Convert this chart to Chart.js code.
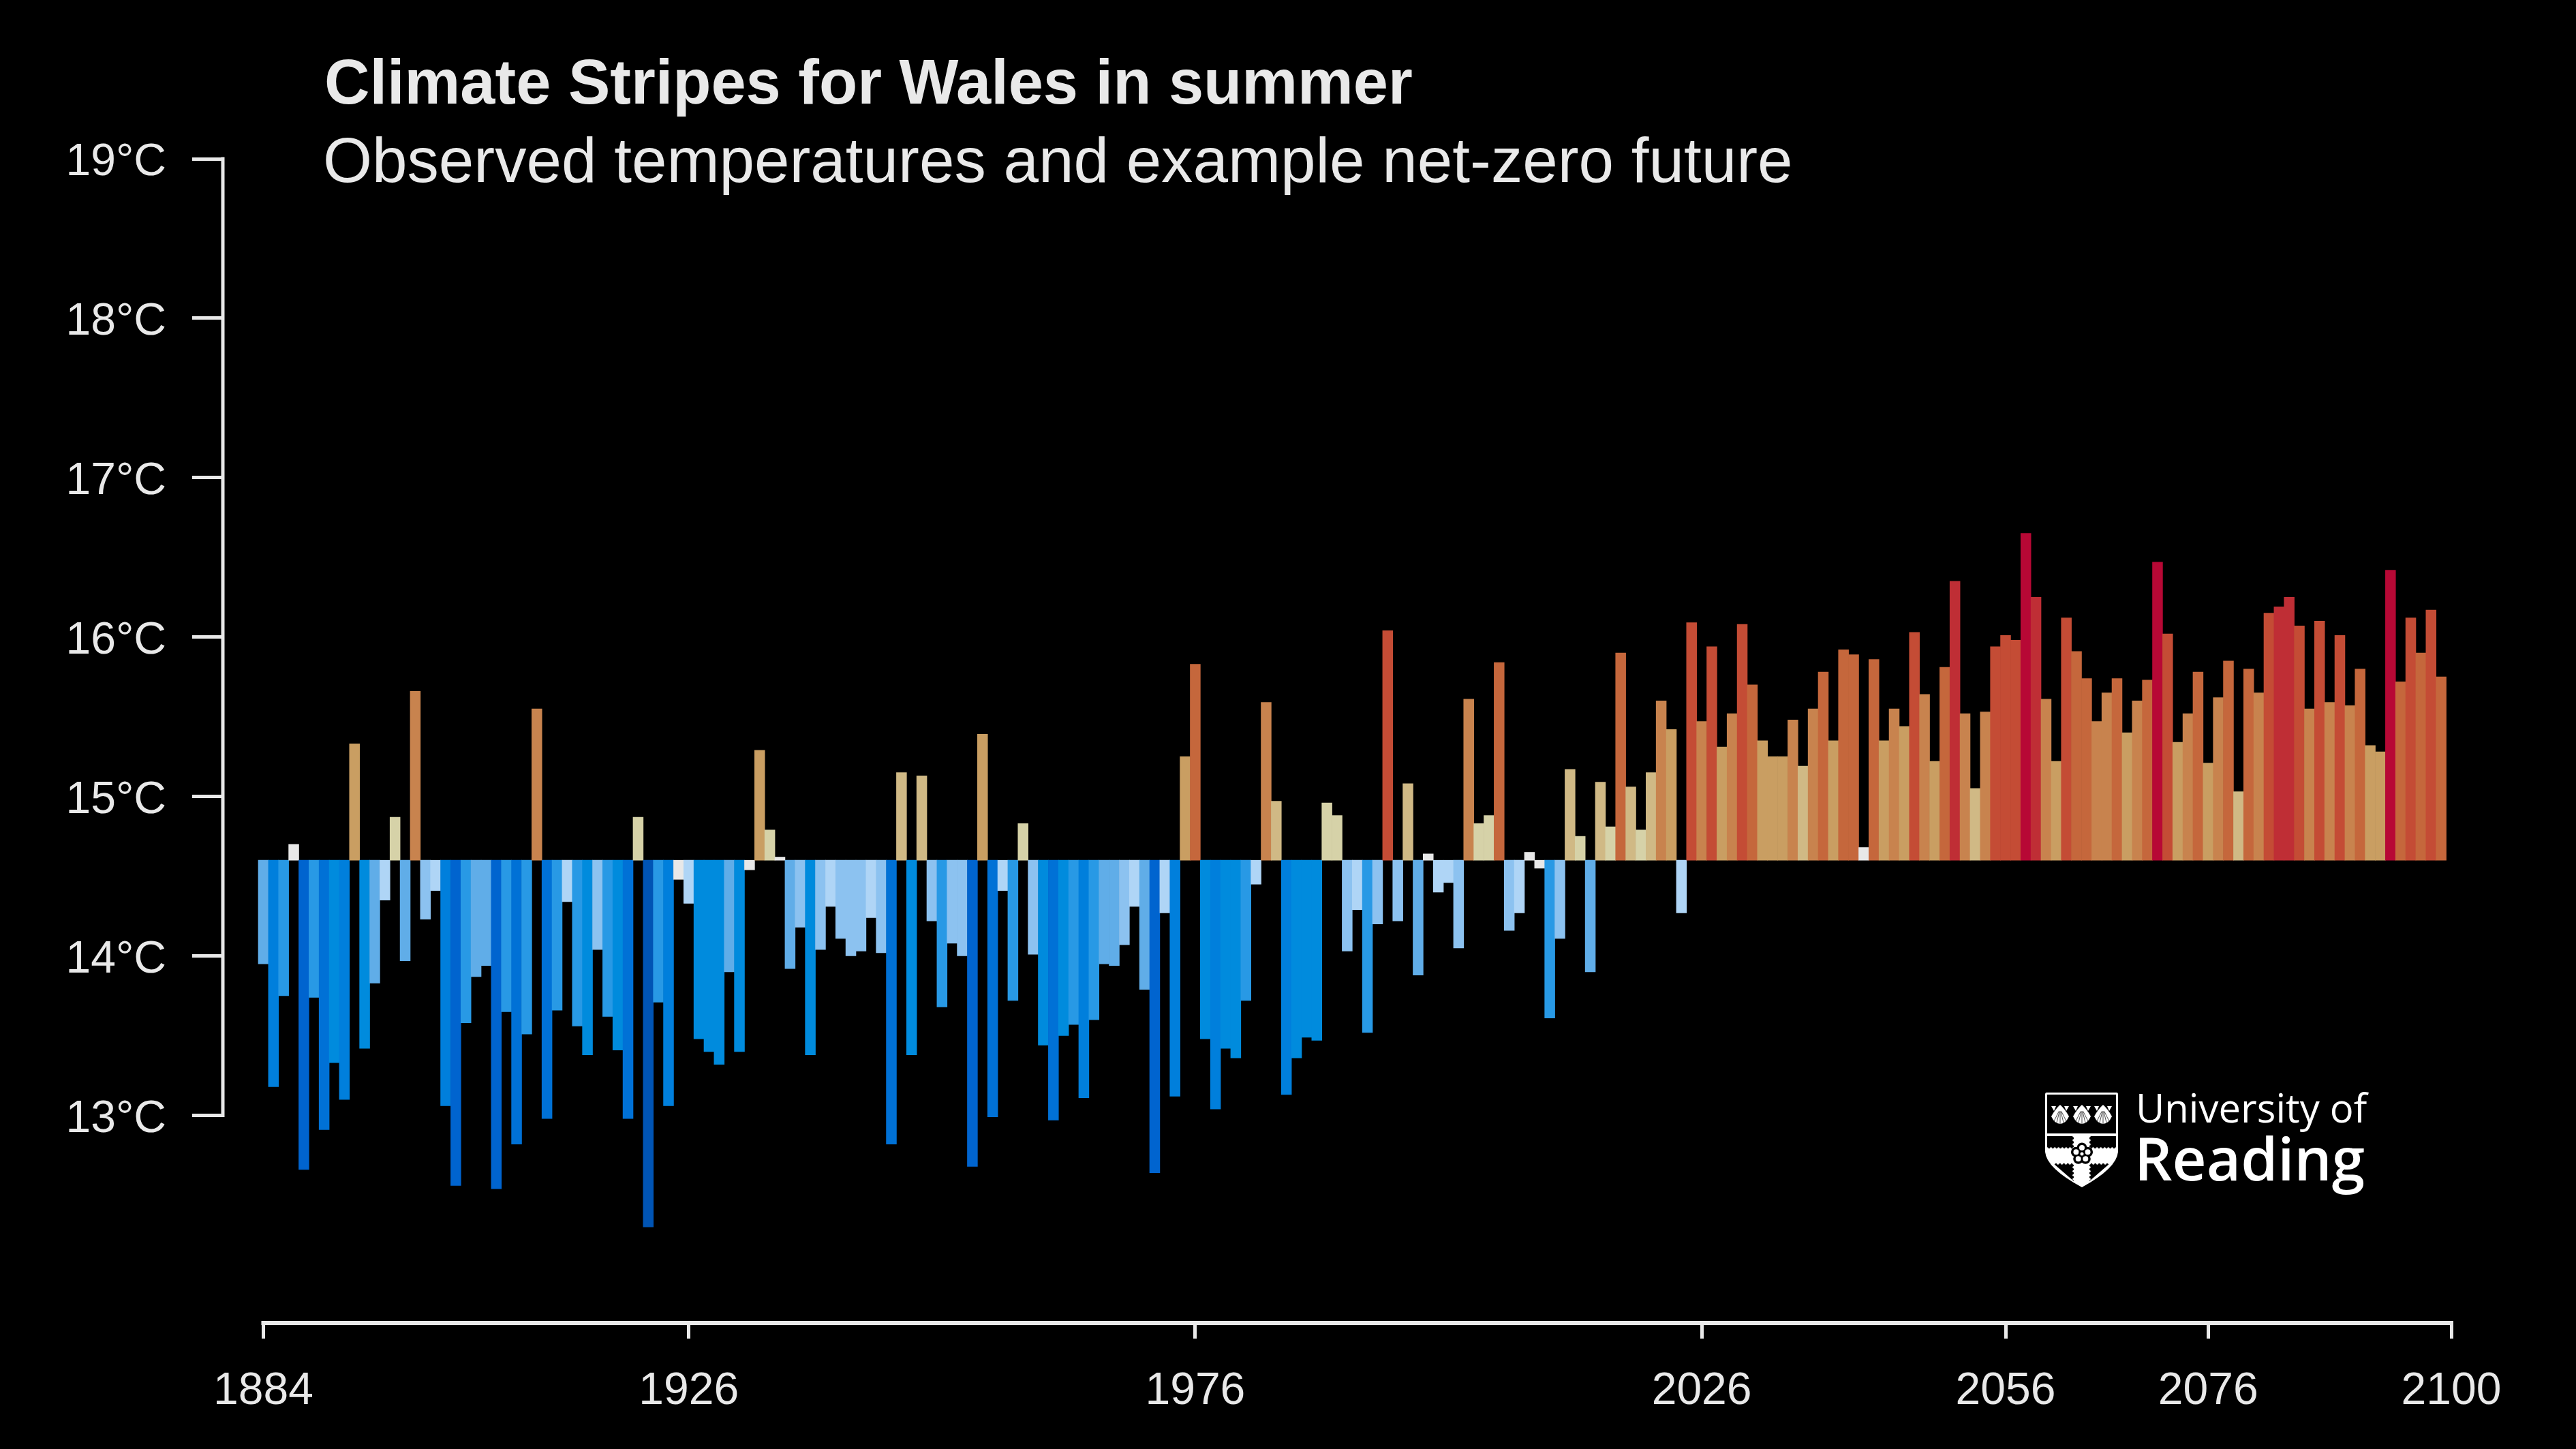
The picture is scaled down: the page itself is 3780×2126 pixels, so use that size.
<!DOCTYPE html>
<html>
<head>
<meta charset="utf-8">
<title>Climate Stripes for Wales in summer</title>
<script src="https://cdn.jsdelivr.net/npm/chart.js@4/dist/chart.umd.js"></script>
<style>
  html, body { margin: 0; padding: 0; background: #000; }
  canvas { display: block; }
</style>
</head>
<body>
<canvas id="stripes" width="3780" height="2126"></canvas>
<script>
const titleText = "Climate Stripes for Wales in summer";
const subtitleText = "Observed temperatures and example net-zero future";

const firstYear = 1884;
const baseline = 14.6;
const yearTicks = [1884, 1926, 1976, 2026, 2056, 2076, 2100];
const tempTicks = [13, 14, 15, 16, 17, 18, 19];

// 1884 to 2024
const observed = [
  13.95, 13.18, 13.75, 14.70, 12.66, 13.74, 12.91, 13.33, 13.10, 15.33,
  13.42, 13.83, 14.35, 14.87, 13.97, 15.66, 14.23, 14.41, 13.06, 12.56,
  13.58, 13.87, 13.94, 12.54, 13.65, 12.82, 13.51, 15.55, 12.98, 13.66,
  14.34, 13.56, 13.38, 14.04, 13.62, 13.41, 12.98, 14.87, 12.30, 13.71,
  13.06, 14.48, 14.33, 13.48, 13.40, 13.32, 13.90, 13.40, 14.54, 15.29,
  14.79, 14.62, 13.92, 14.18, 13.38, 14.04, 14.31, 14.11, 14.00, 14.03,
  14.24, 14.02, 12.82, 15.15, 13.38, 15.13, 14.22, 13.68, 14.08, 14.00,
  12.68, 15.39, 12.99, 14.41, 13.72, 14.83, 14.01, 13.44, 12.97, 13.50,
  13.57, 13.11, 13.60, 13.95, 13.94, 14.07, 14.31, 13.79, 12.64, 14.27,
  13.12, 15.25, 15.83, 13.48, 13.04, 13.42, 13.36, 13.72, 14.45, 15.59,
  14.97, 13.13, 13.36, 13.49, 13.47, 14.96, 14.88, 14.03, 14.29, 13.52,
  14.20, 16.04, 14.22, 15.08, 13.88, 14.64, 14.40, 14.46, 14.05, 15.61,
  14.83, 14.88, 15.84, 14.16, 14.27, 14.65, 14.55, 13.61, 14.11, 15.17,
  14.75, 13.90, 15.09, 14.81, 15.90, 15.06, 14.79, 15.15, 15.60, 15.42,
  14.27
];

// 2025 to 2099, the example future
const future = [
  16.09, 15.47, 15.94, 15.31, 15.52, 16.08, 15.70, 15.35, 15.25, 15.25,
  15.48, 15.19, 15.55, 15.78, 15.35, 15.92, 15.89, 14.68, 15.86, 15.35,
  15.55, 15.44, 16.03, 15.64, 15.22, 15.81, 16.35, 15.52, 15.05, 15.53,
  15.94, 16.01, 15.98, 16.65, 16.25, 15.61, 15.22, 16.12, 15.91, 15.74,
  15.47, 15.65, 15.74, 15.40, 15.60, 15.73, 16.47, 16.02, 15.34, 15.52,
  15.78, 15.21, 15.62, 15.85, 15.03, 15.80, 15.65, 16.15, 16.19, 16.25,
  16.07, 15.55, 16.10, 15.59, 16.01, 15.57, 15.80, 15.32, 15.28, 16.42,
  15.72, 16.12, 15.90, 16.17, 15.75
];

// colour bins, stripe colour depends on the temperature
const binEdges = [12.45, 12.75, 13.02, 13.31, 13.505, 13.77, 13.99, 14.235, 14.47,
  14.72, 14.965, 15.20, 15.455, 15.68, 15.93, 16.18, 16.385];
const binColors = ["#0054b4", "#0064cf", "#0071d6", "#007fdc", "#008bdd", "#2899e5",
  "#60ade8", "#8cc2f0", "#afd5f6", "#e8e8e8", "#d6d2a8", "#d0b985", "#c99e62",
  "#c8834e", "#c5673c", "#c44c35", "#bf2e35", "#b70835"];

const temps = observed.concat(future);
const years = temps.map((t, i) => firstYear + i);

function stripeColor(t) {
  let i = 0;
  while (i < binEdges.length && t >= binEdges[i]) i++;
  return binColors[i];
}

const textColor = "#e9e9e9";
const fontName = "'Liberation Sans', Arial, sans-serif";

// the R style axis lines only run between the first and last tick,
// title and logo are not something chart.js lays out this way
const decorations = {
  id: "decorations",
  afterDraw(chart) {
    const ctx = chart.ctx;
    const x = chart.scales.x;
    const y = chart.scales.y;
    const lineY = chart.chartArea.bottom;
    const lineX = chart.chartArea.left;

    ctx.save();
    ctx.strokeStyle = textColor;
    ctx.lineCap = "square";
    ctx.lineWidth = 5;
    ctx.beginPath();
    ctx.moveTo(lineX, y.getPixelForValue(tempTicks[0]));
    ctx.lineTo(lineX, y.getPixelForValue(tempTicks[tempTicks.length - 1]));
    ctx.stroke();
    ctx.lineWidth = 6;
    ctx.beginPath();
    ctx.moveTo(x.getPixelForValue(yearTicks[0]), lineY);
    ctx.lineTo(x.getPixelForValue(yearTicks[yearTicks.length - 1]), lineY);
    ctx.stroke();

    ctx.fillStyle = textColor;
    ctx.textAlign = "left";
    ctx.textBaseline = "alphabetic";
    ctx.font = "bold 92px " + fontName;
    ctx.fillText(titleText, 476, 152);
    ctx.font = "92.6px " + fontName;
    ctx.fillText(subtitleText, 474, 267);

    drawLogo(ctx);
    ctx.restore();
  },
};

function drawShell(ctx, cx, cy) {
  ctx.fillStyle = "#fff";
  ctx.beginPath();
  ctx.moveTo(cx, cy - 14);
  ctx.quadraticCurveTo(cx + 7, cy - 8, cx + 13, cy + 3);
  ctx.quadraticCurveTo(cx + 8, cy + 14, cx, cy + 14);
  ctx.quadraticCurveTo(cx - 8, cy + 14, cx - 13, cy + 3);
  ctx.quadraticCurveTo(cx - 7, cy - 8, cx, cy - 14);
  ctx.fill();
  // small points either side of the hinge
  ctx.beginPath();
  ctx.moveTo(cx - 13, cy - 12);
  ctx.lineTo(cx - 6, cy - 12);
  ctx.lineTo(cx - 9, cy - 5);
  ctx.closePath();
  ctx.moveTo(cx + 13, cy - 12);
  ctx.lineTo(cx + 6, cy - 12);
  ctx.lineTo(cx + 9, cy - 5);
  ctx.closePath();
  ctx.fill();
  ctx.strokeStyle = "#000";
  ctx.lineWidth = 0.7;
  ctx.beginPath();
  for (let k = -2; k <= 2; k++) {
    ctx.moveTo(cx + k, cy - 4);
    ctx.lineTo(cx + k * 5.5, cy + 14);
  }
  ctx.stroke();
}

function shieldPath(ctx) {
  ctx.beginPath();
  ctx.moveTo(3003, 1603);
  ctx.lineTo(3106, 1603);
  ctx.quadraticCurveTo(3108, 1603, 3108, 1606);
  ctx.lineTo(3108, 1690);
  ctx.quadraticCurveTo(3106, 1714, 3055, 1742);
  ctx.quadraticCurveTo(3003, 1714, 3001, 1690);
  ctx.lineTo(3001, 1606);
  ctx.quadraticCurveTo(3001, 1603, 3003, 1603);
  ctx.closePath();
}

// little bumps along the edges of the cross
function scallops(ctx, x0, y0, x1, y1) {
  const n = Math.round(Math.hypot(x1 - x0, y1 - y0) / 5.5);
  ctx.fillStyle = "#fff";
  for (let k = 0; k <= n; k++) {
    ctx.beginPath();
    ctx.arc(x0 + ((x1 - x0) * k) / n, y0 + ((y1 - y0) * k) / n, 1.8, 0, Math.PI * 2);
    ctx.fill();
  }
}

function drawLogo(ctx) {
  ctx.save();
  // shield
  shieldPath(ctx);
  ctx.fillStyle = "#fff";
  ctx.fill();
  ctx.save();
  shieldPath(ctx);
  ctx.clip();
  ctx.fillStyle = "#000";
  ctx.fillRect(3004, 1606, 101, 57);
  ctx.fillRect(3004, 1667, 39, 18);
  ctx.fillRect(3066, 1667, 39, 18);
  ctx.beginPath();
  ctx.moveTo(3013, 1707);
  ctx.lineTo(3043, 1707);
  ctx.lineTo(3043, 1733);
  ctx.closePath();
  ctx.moveTo(3066, 1707);
  ctx.lineTo(3096, 1707);
  ctx.lineTo(3066, 1733);
  ctx.closePath();
  ctx.fill();
  scallops(ctx, 3004, 1685, 3043, 1685);
  scallops(ctx, 3066, 1685, 3105, 1685);
  scallops(ctx, 3014, 1707, 3043, 1707);
  scallops(ctx, 3066, 1707, 3095, 1707);
  scallops(ctx, 3043, 1667, 3043, 1685);
  scallops(ctx, 3066, 1667, 3066, 1685);
  scallops(ctx, 3043, 1707, 3043, 1730);
  scallops(ctx, 3066, 1707, 3066, 1730);
  ctx.restore();
  [3023, 3055, 3086].forEach((cx) => drawShell(ctx, cx, 1635));

  // rose on the cross
  ctx.fillStyle = "#000";
  for (let k = 0; k < 5; k++) {
    const a = -Math.PI / 2 + (k * 2 * Math.PI) / 5;
    ctx.beginPath();
    ctx.arc(3055 + Math.cos(a) * 9, 1693 + Math.sin(a) * 9, 7.5, 0, Math.PI * 2);
    ctx.fill();
  }
  ctx.fillStyle = "#fff";
  for (let k = 0; k < 5; k++) {
    const a = -Math.PI / 2 + (k * 2 * Math.PI) / 5;
    ctx.beginPath();
    ctx.arc(3055 + Math.cos(a) * 9, 1693 + Math.sin(a) * 9, 4, 0, Math.PI * 2);
    ctx.fill();
  }
  ctx.fillStyle = "#000";
  ctx.beginPath();
  ctx.arc(3055, 1693, 5, 0, Math.PI * 2);
  ctx.fill();
  ctx.fillStyle = "#fff";
  ctx.beginPath();
  ctx.arc(3055, 1693, 2.5, 0, Math.PI * 2);
  ctx.fill();

  // wordmark
  ctx.fillStyle = "#fff";
  ctx.textAlign = "left";
  ctx.textBaseline = "alphabetic";
  ctx.font = "500 58px 'Open Sans', sans-serif";
  ctx.fillText("University of", 3134, 1647);
  ctx.font = "600 87px 'Open Sans', sans-serif";
  ctx.fillText("Reading", 3132, 1732);
  ctx.restore();
}

new Chart(document.getElementById("stripes").getContext("2d"), {
  type: "bar",
  data: {
    labels: years,
    datasets: [
      {
        data: temps,
        base: baseline,
        backgroundColor: temps.map(stripeColor),
        borderWidth: 0,
        barPercentage: 1,
        categoryPercentage: 1,
        clip: false,
      },
    ],
  },
  options: {
    responsive: false,
    animation: false,
    devicePixelRatio: 1,
    layout: { padding: { top: 233, right: 183, left: 0, bottom: 0 } },
    plugins: {
      legend: { display: false },
      tooltip: { enabled: false },
    },
    scales: {
      x: {
        type: "linear",
        offset: false,
        min: 1880,
        max: 2100,
        afterBuildTicks: (axis) => {
          axis.ticks = yearTicks.map((v) => ({ value: v }));
        },
        afterFit: (axis) => {
          axis.height = 185;
        },
        border: { display: false },
        grid: {
          offset: false,
          drawOnChartArea: false,
          tickLength: 23,
          tickWidth: 5,
          tickColor: textColor,
        },
        ticks: {
          autoSkip: false,
          maxRotation: 0,
          padding: 38,
          color: textColor,
          font: { family: fontName, size: 66 },
          callback: (v) => String(v),
        },
      },
      y: {
        min: 11.698,
        max: 19,
        afterBuildTicks: (axis) => {
          axis.ticks = tempTicks.map((v) => ({ value: v }));
        },
        afterFit: (axis) => {
          axis.width = 327;
        },
        border: { display: false },
        grid: {
          drawOnChartArea: false,
          tickLength: 45,
          tickWidth: 5,
          tickColor: textColor,
        },
        ticks: {
          autoSkip: false,
          padding: 38,
          labelOffset: 6,
          color: textColor,
          font: { family: fontName, size: 66 },
          callback: (v) => v + "°C",
        },
      },
    },
  },
  plugins: [decorations],
});
</script>
</body>
</html>
